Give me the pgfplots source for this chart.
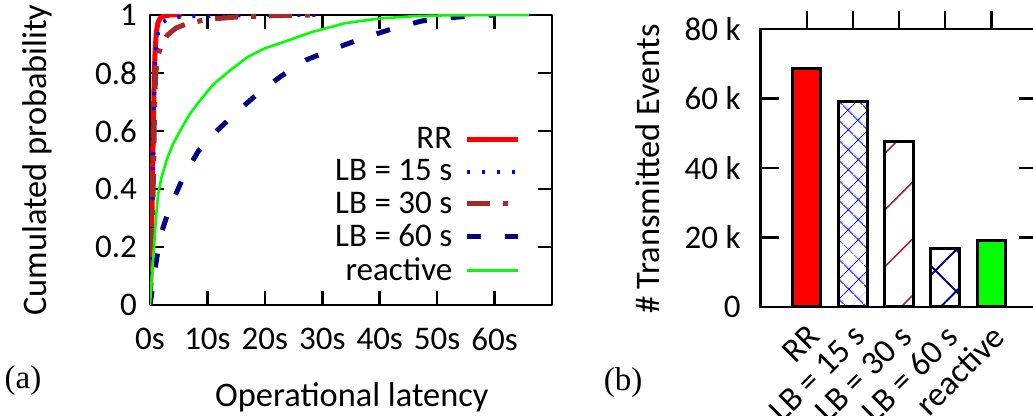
\documentclass[border=0pt]{standalone}
\usepackage{fontspec}
\setmainfont{Carlito}
\newfontfamily\timesfont{Liberation Serif}
\usepackage{pgfplots}
\pgfplotsset{compat=1.18}
\usetikzlibrary{patterns.meta}
\definecolor{cRR}{RGB}{255,0,0}
\definecolor{cLBa}{RGB}{0,0,255}
\definecolor{cLBb}{RGB}{165,42,42}
\definecolor{cLBc}{RGB}{0,0,128}
\definecolor{cReact}{RGB}{0,255,0}
\newcommand{\fs}{\fontsize{16.5}{19}\selectfont}
\newcommand{\fl}{\fontsize{17.2}{20}\selectfont}

\begin{document}
\begin{tikzpicture}
\useasboundingbox (0,0) rectangle (516.5pt,208pt);

% (a) CDF of operational latency
\begin{axis}[
  at={(75pt,55.5pt)}, anchor=south west,
  scale only axis, width=201pt, height=145pt,
  xmin=0, xmax=70, ymin=0, ymax=1,
  xtick={0,10,...,60}, ytick={0,0.2,...,1},
  xticklabel={\pgfmathprintnumber{\tick}s},
  /pgf/number format/assume math mode=true,
  tick label style={font=\fs},
  xticklabel style={yshift=-8pt},
  yticklabel style={xshift=-3pt},
  major tick length=7pt,
  axis line style={line width=1.3pt},
  every tick/.style={black, line width=1.3pt},
  xlabel={Operational latency},
  ylabel={Cumulated probability},
  label style={font=\fl},
  xlabel style={at={(axis description cs:0.502,-0.317)}, anchor=center},
  ylabel style={at={(axis description cs:-0.281,0.5)}, anchor=center},
  legend plot pos=right,
  legend cell align=right,
  legend style={draw=none, fill=none, font=\fs, at={(0.922,0.06)}, anchor=south east,
    inner sep=0pt, row sep=0pt, column sep=4pt},
  legend image code/.code={\draw[#1] (0pt,0pt) -- (25.5pt,0pt);},
  line join=round,
]
\addplot[cRR, line width=2.5pt] coordinates {
  (0,0) (0.15,0.1) (0.3,0.25) (0.45,0.45) (0.6,0.65) (0.75,0.8) (0.9,0.88)
  (1.1,0.94) (1.4,0.975) (1.8,0.99) (2.5,0.997) (3.5,1) (5.5,1)};
\addlegendentry{RR}
\addplot[cLBa, line width=2pt, dash pattern=on 1.5pt off 6pt] coordinates {
  (0,0) (0.2,0.1) (0.4,0.3) (0.55,0.5) (0.7,0.7) (0.85,0.82) (1.1,0.9)
  (1.5,0.95) (2.2,0.975) (3.5,0.99) (6,0.995) (12,0.998) (20,1) (30,1)};
\addlegendentry{LB = 15 s}
\addplot[cLBb, line width=2.5pt, dash pattern=on 11.5pt off 6.5pt on 2.5pt off 6.5pt] coordinates {
  (0,0) (0.2,0.1) (0.45,0.3) (0.65,0.5) (0.8,0.7) (1.0,0.8) (1.4,0.86)
  (2.0,0.9) (3,0.93) (4.5,0.955) (6.5,0.97) (10,0.985) (15,0.993) (22,0.998) (29,1)};
\addlegendentry{LB = 30 s}
\addplot[cLBc, line width=2.5pt, dash pattern=on 7pt off 12pt] coordinates {
  (0,0) (0.3,0.04) (0.6,0.08) (1.0,0.14) (1.5,0.2) (2.0,0.25) (3,0.31)
  (4,0.36) (6,0.45) (8.4,0.53) (11.6,0.6) (15.4,0.67) (19.1,0.735) (22.9,0.79)
  (27.2,0.845) (32.2,0.885) (37.1,0.92) (42.6,0.955) (47.5,0.98) (52,0.99)
  (56,0.997) (60,1)};
\addlegendentry{LB = 60 s}
\addplot[cReact, line width=1.3pt] coordinates {
  (0,0) (0.2,0.06) (0.4,0.12) (0.7,0.2) (1.0,0.29) (1.4,0.38) (2.0,0.44)
  (2.9,0.5) (4,0.555) (5.5,0.61) (7,0.66) (8.5,0.7) (11,0.76) (14,0.81)
  (17,0.855) (20,0.885) (23,0.905) (28,0.94) (34,0.972) (40,0.988) (46,0.996)
  (52,0.999) (66,1)};
\addlegendentry{reactive}
\end{axis}

% (b) transmitted events
\begin{axis}[
  at={(380.35pt,54.5pt)}, anchor=south west,
  scale only axis, width=138.3pt, height=139pt,
  xmin=0, xmax=6, ymin=0, ymax=80000,
  ybar, bar width=0.614, bar shift=0pt,
  xtick={1,2,3,4,5},
  xticklabels={RR, LB = 15 s, LB = 30 s, LB = 60 s, reactive},
  xtick pos=upper, xticklabel pos=lower,
  ytick={0,20000,40000,60000,80000},
  yticklabels={0, 20 k, 40 k, 60 k, 80 k},
  scaled y ticks=false,
  tick label style={font=\fs},
  xticklabel style={font=\fontsize{17}{20}\selectfont, xshift=-0.5pt, yshift=6pt, rotate=45, anchor=north east},
  yticklabel style={xshift=-6.5pt},
  major tick length=9pt,
  axis line style={line width=1.3pt},
  every tick/.style={black, line width=1.3pt},
  ylabel={\# Transmitted Events},
  label style={font=\fl},
  ylabel style={at={(axis description cs:-0.407,0.496)}, anchor=center},
]
\addplot[draw=black, line width=1.5pt, fill=cRR] coordinates {(1,68500)};
\addplot[draw=black, line width=1.5pt, pattern={Hatch[angle=45,distance=6.9pt,line width=0.5pt]}, pattern color=cLBa] coordinates {(2,59000)};
\addplot[draw=black, line width=1.5pt, pattern={Lines[angle=45,distance=20pt,line width=0.8pt]}, pattern color=cLBb] coordinates {(3,47600)};
\addplot[draw=black, line width=1.5pt, pattern={Hatch[angle=45,distance=14.7pt,line width=1pt]}, pattern color=cLBc] coordinates {(4,16800)};
\addplot[draw=black, line width=1.5pt, fill=cReact] coordinates {(5,19100)};
\end{axis}

\node[font=\timesfont\fs] at (11.5pt,17.5pt) {(a)};
\node[font=\timesfont\fs] at (311.5pt,16.5pt) {(b)};
\end{tikzpicture}
\end{document}
